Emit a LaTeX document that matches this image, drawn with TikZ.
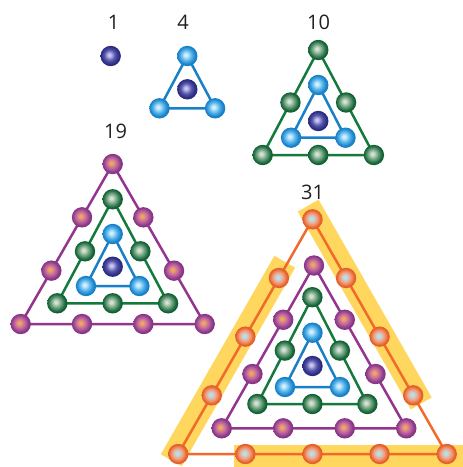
\documentclass[tikz,border=0pt]{standalone}
\usepackage{fontspec}
\setmainfont{Open Sans}
\usetikzlibrary{calc}

% line colours
\definecolor{lnorange}{HTML}{F26A2A}
\definecolor{lnpurple}{HTML}{93358F}
\definecolor{lngreen}{HTML}{137A3C}
\definecolor{lnblue}{HTML}{1A80C6}
\definecolor{bandyellow}{HTML}{FFD75E}
\definecolor{labelink}{HTML}{231F20}

% sphere colours: highlight, body, rim
\definecolor{orA}{HTML}{BCDDE6}\definecolor{orB}{HTML}{F2A07E}\definecolor{orC}{HTML}{E65F28}
\definecolor{puA}{HTML}{F2A468}\definecolor{puB}{HTML}{BE66A0}\definecolor{puC}{HTML}{873687}
\definecolor{grA}{HTML}{D5E3D5}\definecolor{grB}{HTML}{6A9F7B}\definecolor{grC}{HTML}{126236}
\definecolor{blA}{HTML}{D3F1FF}\definecolor{blB}{HTML}{58B5EA}\definecolor{blC}{HTML}{1880C8}
\definecolor{nvA}{HTML}{C8C8F0}\definecolor{nvB}{HTML}{5656AC}\definecolor{nvC}{HTML}{2B2B80}

\pgfdeclareradialshading{orangeball}{\pgfqpoint{-3bp}{2bp}}{color(0bp)=(orA); color(4bp)=(orA); color(13bp)=(orB); color(22bp)=(orC); color(25bp)=(orC); color(50bp)=(orC)}
\pgfdeclareradialshading{purpleball}{\pgfqpoint{-4bp}{3bp}}{color(0bp)=(puA); color(3bp)=(puA); color(13bp)=(puB); color(22bp)=(puC); color(25bp)=(puC); color(50bp)=(puC)}
\pgfdeclareradialshading{greenball}{\pgfqpoint{-4bp}{3bp}}{color(0bp)=(grA); color(3bp)=(grA); color(13bp)=(grB); color(22bp)=(grC); color(25bp)=(grC); color(50bp)=(grC)}
\pgfdeclareradialshading{blueball}{\pgfqpoint{-4bp}{3bp}}{color(0bp)=(blA); color(3bp)=(blA); color(13bp)=(blB); color(22bp)=(blC); color(25bp)=(blC); color(50bp)=(blC)}
\pgfdeclareradialshading{navyball}{\pgfqpoint{-4bp}{3bp}}{color(0bp)=(nvA); color(3bp)=(nvA); color(13bp)=(nvB); color(22bp)=(nvC); color(25bp)=(nvC); color(50bp)=(nvC)}

\tikzset{
  ringline/.style={line width=2.5pt},
  orb/.style={circle, minimum size=20.4pt, inner sep=0pt, draw=none, shade, shading=#1},
  band/.style={fill=bandyellow},
  count/.style={inner sep=0pt, text=labelink, font=\fontsize{20}{24}\selectfont}
}

% a triangular ring of spheres:
% #1 name, #2 apex x, #3 apex y, #4 half width, #5 base y,
% #6 spheres per side (intervals), #7 line colour, #8 sphere shading
\newcommand\ballring[8]{%
  \coordinate (#1-a) at (#2,#3);
  \coordinate (#1-l) at ({#2-#4},#5);
  \coordinate (#1-r) at ({#2+#4},#5);
  \draw[ringline,#7] (#1-a) -- (#1-l) -- (#1-r) -- cycle;
  \pgfmathtruncatemacro\ringlast{#6-1}
  \foreach \k in {0,...,\ringlast}{
    \node[orb=#8] (#1-L\k) at ($(#1-a)!\k/#6!(#1-l)$) {};
    \node[orb=#8] (#1-B\k) at ($(#1-l)!\k/#6!(#1-r)$) {};
    \node[orb=#8] (#1-R\k) at ($(#1-r)!\k/#6!(#1-a)$) {};
  }
}

% highlight strip from #1 to #2, extended by #3 and #4 beyond them
\newcommand\hiband[4]{%
  \coordinate (hs) at ($(#1)!-#3pt!(#2)$);
  \coordinate (he) at ($(#2)!-#4pt!(#1)$);
  \fill[band] ($(hs)!15pt!-90:(he)$) -- ($(he)!15pt!90:(hs)$)
     -- ($(he)!9pt!-90:(hs)$) -- ($(hs)!9pt!90:(he)$) -- cycle;
}

\begin{document}
\begin{tikzpicture}[x=1pt, y=-1pt]
\useasboundingbox (0,0) rectangle (463,467);

% counts
\node[count] (t1)  at (113.5,22) {1};
\node[count] (t4)  at (183,22) {4};
\node[count] (t10) at (318.5,22) {10};
\node[count] (t19) at (115.5,131.3) {19};
\node[count] (t31) at (312.5,192.5) {31};

% 1
\node[orb=navyball] (c1) at (110.7,56) {};

% 4
\ballring{fb}{187.3}{56}{27.8}{108.3}{1}{lnblue}{blueball}
\node[orb=navyball] (c4) at (187.3,89.3) {};

% 10
\ballring{tg}{318.3}{50}{55.6}{155}{2}{lngreen}{greenball}
\ballring{tb}{318.3}{85}{27.2}{137.7}{1}{lnblue}{blueball}
\node[orb=navyball] (c10) at (318.3,121) {};

% 19
\ballring{np}{112.7}{164}{92}{324}{3}{lnpurple}{purpleball}
\ballring{ng}{112.7}{199.3}{55.4}{303.3}{2}{lngreen}{greenball}
\ballring{nb}{112.7}{234}{26.7}{286}{1}{lnblue}{blueball}
\node[orb=navyball] (c19) at (112.7,266.7) {};

% 31: highlighted groups of the outer ring first
\coordinate (oa) at (312.5,219.3);
\coordinate (ol) at (178.3,454);
\coordinate (or) at (446.8,454);
\coordinate (oR1) at ($(or)!0.25!(oa)$);
\coordinate (oL1) at ($(oa)!0.25!(ol)$);
\coordinate (oB1) at ($(ol)!0.25!(or)$);
\hiband{oR1}{oa}{11}{14}
\hiband{oL1}{ol}{17}{9}
\hiband{oB1}{or}{11}{16}

\ballring{to}{312.5}{219.3}{134.25}{454}{4}{lnorange}{orangeball}
\ballring{tp}{314}{265.5}{92.3}{428.3}{3}{lnpurple}{purpleball}
\ballring{tgg}{312.4}{297.2}{55}{404}{2}{lngreen}{greenball}
\ballring{tbb}{312.5}{332.7}{27.5}{387}{1}{lnblue}{blueball}
\node[orb=navyball] (c31) at (312.5,366) {};
\end{tikzpicture}
\end{document}
